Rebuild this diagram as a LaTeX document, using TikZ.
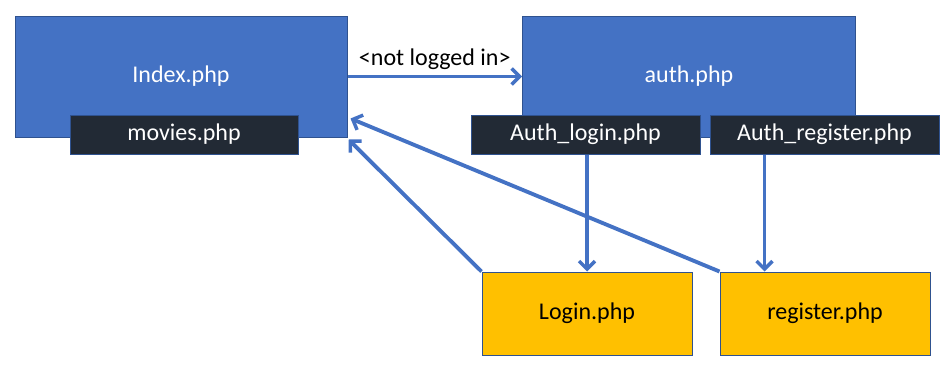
\documentclass[tikz,border=0pt]{standalone}
\usepackage{fontspec}
\setmainfont{Carlito}
\usetikzlibrary{arrows.meta,calc}
\definecolor{accent}{HTML}{4472C4}
\definecolor{edgeblue}{HTML}{2F528F}
\definecolor{darkbar}{HTML}{222A35}
\definecolor{gold}{HTML}{FFC000}
\begin{document}
\begin{tikzpicture}[x=0.75pt,y=-0.75pt,
  label font/.style={font=\fontsize{18}{20}\selectfont},
  box/.style={draw=edgeblue,line width=0.75pt,inner sep=0pt,label font},
  page/.style={box,fill=accent,text=white},
  part/.style={box,fill=darkbar,text=white,minimum height=39*0.75pt},
  form/.style={box,fill=gold,text=black,minimum width=210*0.75pt,minimum height=83*0.75pt},
  link/.style={draw=accent,line width=2.9pt,-{Straight Barb[length=6pt,width=12pt,line width=2.6pt]}}]
\useasboundingbox (0,0) rectangle (947,368);
% main pages
\node[page,minimum width=332*0.75pt,minimum height=121*0.75pt] (index) at (181,76.5) {\raisebox{-2pt}{Index.php}};
\node[page,minimum width=333*0.75pt,minimum height=121*0.75pt] (auth) at (689,76.5) {\raisebox{-2pt}{auth.php}};
% included parts
\node[part,minimum width=228*0.75pt] (movies) at (184,134.5) {movies.php};
\node[part,minimum width=229*0.75pt] (alogin) at (585.5,134.5) {Auth\_login.php};
\node[part,minimum width=229*0.75pt] (areg) at (824.5,134.5) {Auth\_register.php};
% forms
\node[form] (login) at (587,313.5) {Login.php};
\node[form] (reg) at (825,313.5) {register.php};
% connectors
\draw[link] (index.east) -- node[above,label font,text=black,yshift=0pt] {<not logged in>} (auth.west);
\draw[link] (alogin.south -| login.north) -- (login.north);
\coordinate (regtop) at ($(reg.north west)+(45,0)$);
\draw[link] (areg.south -| regtop) -- (regtop);
\coordinate (back1) at ($(index.south east)+(1,2)$);
\coordinate (back2) at ($(index.south east)+(3,-19)$);
\draw[link] (login.north west) -- (back1);
\draw[link] (reg.north west) -- (back2);
\end{tikzpicture}
\end{document}
